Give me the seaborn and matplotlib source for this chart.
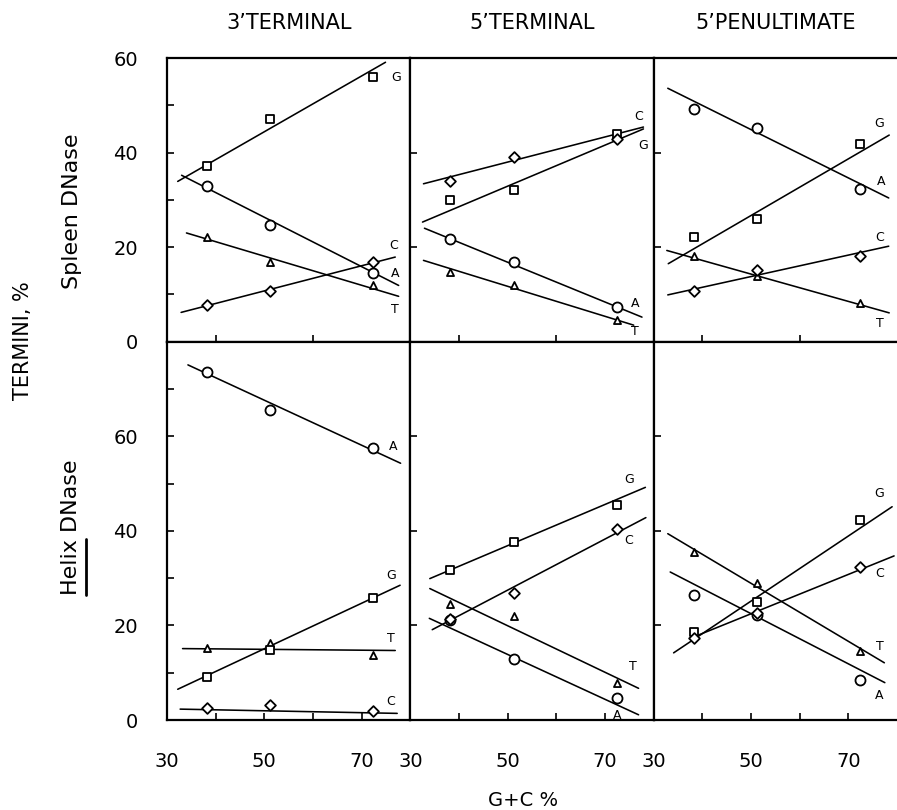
import numpy as np
import pandas as pd
import seaborn as sns
import matplotlib
matplotlib.use("Agg")
import matplotlib.pyplot as plt
from matplotlib.lines import Line2D

# ---------------- data ----------------
gc = [38.2, 51.2, 72.4]          # G+C % of the three DNAs
bases = ["A", "T", "G", "C"]
col_titles = ["3\u2019TERMINAL", "5\u2019TERMINAL", "5\u2019PENULTIMATE"]
row_labels = ["Spleen DNase", "Helix DNase"]

# termini % at the three G+C values
spleen_3t = {"A": [32.9, 24.7, 14.6], "T": [22.1, 16.8, 11.9],
             "G": [37.2, 47.2, 56.0], "C": [7.8, 10.7, 16.8]}
spleen_5t = {"A": [21.8, 16.8, 7.3], "T": [14.8, 12.0, 4.5],
             "G": [29.9, 32.0, 44.0], "C": [33.9, 39.1, 42.8]}
spleen_5p = {"A": [49.3, 45.3, 32.4], "T": [18.2, 14.0, 8.2],
             "G": [22.1, 26.0, 41.9], "C": [10.8, 15.1, 18.1]}
helix_3t = {"A": [73.7, 65.5, 57.5], "T": [15.2, 16.3, 13.8],
            "G": [9.1, 14.9, 25.7], "C": [2.5, 3.2, 1.9]}
helix_5t = {"A": [21.2, 12.8, 4.6], "T": [24.5, 21.9, 7.9],
            "G": [31.8, 37.6, 45.5], "C": [21.4, 26.8, 40.3]}
helix_5p = {"A": [26.4, 22.2, 8.4], "T": [35.5, 28.9, 14.5],
            "G": [18.6, 25.0, 42.3], "C": [17.3, 22.6, 32.4]}

# fitted straight lines: (x start, y start, x end, y end)
spleen_3t_fit = {"A": (33.0, 35.2, 77.6, 11.9), "T": (34.0, 23.0, 77.6, 9.6),
                 "G": (32.2, 33.9, 74.9, 59.1), "C": (32.9, 6.2, 76.9, 17.9)}
spleen_5t_fit = {"A": (32.9, 24.0, 77.6, 5.2), "T": (32.7, 17.2, 75.9, 3.5),
                 "G": (32.5, 25.3, 77.9, 45.0), "C": (32.7, 33.4, 77.9, 45.4)}
spleen_5p_fit = {"A": (32.9, 53.6, 78.3, 30.4), "T": (32.7, 19.3, 78.4, 6.1),
                 "G": (33.0, 16.5, 78.4, 43.7), "C": (32.9, 9.9, 78.3, 20.2)}
helix_3t_fit = {"A": (34.3, 75.1, 78.0, 54.3), "T": (33.2, 15.1, 76.9, 14.7),
                "G": (32.2, 6.5, 77.9, 28.5), "C": (32.7, 2.3, 77.3, 1.4)}
helix_5t_fit = {"A": (33.9, 21.5, 76.9, 1.1), "T": (34.0, 27.8, 76.9, 6.7),
                "G": (34.0, 29.9, 78.3, 49.2), "C": (34.5, 19.1, 78.4, 42.8)}
helix_5p_fit = {"A": (33.4, 31.3, 77.5, 7.9), "T": (32.9, 39.4, 77.4, 12.1),
                "G": (34.1, 14.2, 79.0, 45.1), "C": (38.8, 17.8, 79.4, 34.7)}

# where the base letters sit (data units)
spleen_3t_lab = {"G": (77.1, 55.8), "C": (76.6, 20.3), "A": (76.9, 14.4), "T": (76.8, 6.9)}
spleen_5t_lab = {"C": (76.9, 47.7), "G": (77.9, 41.4), "A": (76.2, 8.0), "T": (76.1, 2.1)}
spleen_5p_lab = {"G": (76.4, 46.1), "A": (76.8, 33.9), "C": (76.4, 22.1), "T": (76.4, 3.9)}
helix_3t_lab = {"A": (76.4, 57.8), "G": (76.0, 30.6), "T": (76.0, 17.2), "C": (76.0, 3.9)}
helix_5t_lab = {"G": (74.9, 50.9), "C": (74.9, 38.0), "T": (75.7, 11.4), "A": (72.4, 1.0)}
helix_5p_lab = {"G": (76.4, 47.8), "C": (76.4, 31.0), "T": (76.4, 15.6), "A": (76.4, 5.1)}

panels = [[(spleen_3t, spleen_3t_fit, spleen_3t_lab),
           (spleen_5t, spleen_5t_fit, spleen_5t_lab),
           (spleen_5p, spleen_5p_fit, spleen_5p_lab)],
          [(helix_3t, helix_3t_fit, helix_3t_lab),
           (helix_5t, helix_5t_fit, helix_5t_lab),
           (helix_5p, helix_5p_fit, helix_5p_lab)]]
row_ymax = [60, 80]

# ---------------- styling ----------------
sns.set_style("white")
plt.rcParams["font.family"] = ["DejaVu Sans"]
plt.rcParams["axes.edgecolor"] = "black"
plt.rcParams["text.color"] = "black"
plt.rcParams["xtick.color"] = "black"
plt.rcParams["ytick.color"] = "black"
plt.rcParams["xtick.labelcolor"] = "black"
plt.rcParams["ytick.labelcolor"] = "black"

marker_style = {"A": ("o", 52), "T": ("^", 26), "G": ("s", 30), "C": ("D", 30)}

W, H = 897, 810
fig = plt.figure(figsize=(W / 100, H / 100), dpi=100)
gs = fig.add_gridspec(2, 3, left=167 / W, right=1.0, top=1 - 58 / H,
                      bottom=1 - 720 / H, wspace=0, hspace=0,
                      height_ratios=row_ymax)

axes = [[None] * 3 for _ in range(2)]
for r in range(2):
    for c in range(3):
        ax = fig.add_subplot(gs[r, c])
        axes[r][c] = ax
        vals, fits, labs = panels[r][c]
        for b in bases:
            x0, y0, x1, y1 = fits[b]
            sns.lineplot(x=[x0, x1], y=[y0, y1], ax=ax, color="black",
                         linewidth=1.15, zorder=2)
            m, s = marker_style[b]
            sns.scatterplot(x=gc, y=vals[b], ax=ax, marker=m, s=s,
                            color="white", edgecolor="black", linewidth=1.3,
                            zorder=3)
            lx, ly = labs[b]
            ax.text(lx, ly, b, fontsize=9, ha="center", va="center",
                    color="black")
        ax.set_xlim(30, 80)
        ax.set_ylim(0, row_ymax[r])
        ax.set_xlabel("")
        ax.set_ylabel("")
        for sp in ax.spines.values():
            sp.set_linewidth(1.6)
            sp.set_color("black")
        if c == 2:
            ax.spines["right"].set_visible(False)
        ax.tick_params(direction="in", length=5, width=1.2, colors="black",
                       labelsize=14, top=False, right=False,
                       bottom=True, left=True)
        ax.tick_params(axis="y", pad=21)
        ax.tick_params(axis="x", pad=23)
        # x ticks
        if r == 0:
            ax.set_xticks([40, 60])
            ax.set_xticklabels([])
        else:
            ax.set_xticks([30, 40, 50, 60, 70])
            ax.set_xticklabels(["30", "", "50", "", "70"])
        # y ticks
        if c == 0:
            yt = list(range(0, row_ymax[r] + (1 if r == 0 else 0), 10))
            ax.set_yticks(yt)
            ax.set_yticklabels([str(v) if v % 20 == 0 else "" for v in yt])
        else:
            ax.set_yticks([20, 40] if r == 0 else [20, 40, 60])
            ax.set_yticklabels([])

# column titles
for c in range(3):
    pos = axes[0][c].get_position()
    fig.text((pos.x0 + pos.x1) / 2, 1 - 23 / H, col_titles[c],
             ha="center", va="center", fontsize=15, color="black")

# row / axis labels
fig.text(23 / W, 1 - 341 / H, "TERMINI, %", rotation=90,
         ha="center", va="center", fontsize=15, color="black")
fig.text(72 / W, 1 - 211 / H, row_labels[0], rotation=90,
         ha="center", va="center", fontsize=16, color="black")
helix_txt = fig.text(71 / W, 1 - 527 / H, row_labels[1], rotation=90,
                     ha="center", va="center", fontsize=16, color="black")
fig.text(523 / W, 1 - 800 / H, "G+C %", ha="center", va="center",
         fontsize=14, color="black")

# underline under "Helix"
fig.canvas.draw()
rend = fig.canvas.get_renderer()
bb = helix_txt.get_window_extent(rend)
tmp = fig.text(0, 0, row_labels[1].split()[0], rotation=90, fontsize=16)
hl = tmp.get_window_extent(rend).height
tmp.remove()
xl = bb.x1 + 5
fig.add_artist(Line2D([xl / W, xl / W], [bb.y0 / H, (bb.y0 + hl) / H],
                      transform=fig.transFigure, color="black", linewidth=2))

fig.savefig("out.png", dpi=100)
